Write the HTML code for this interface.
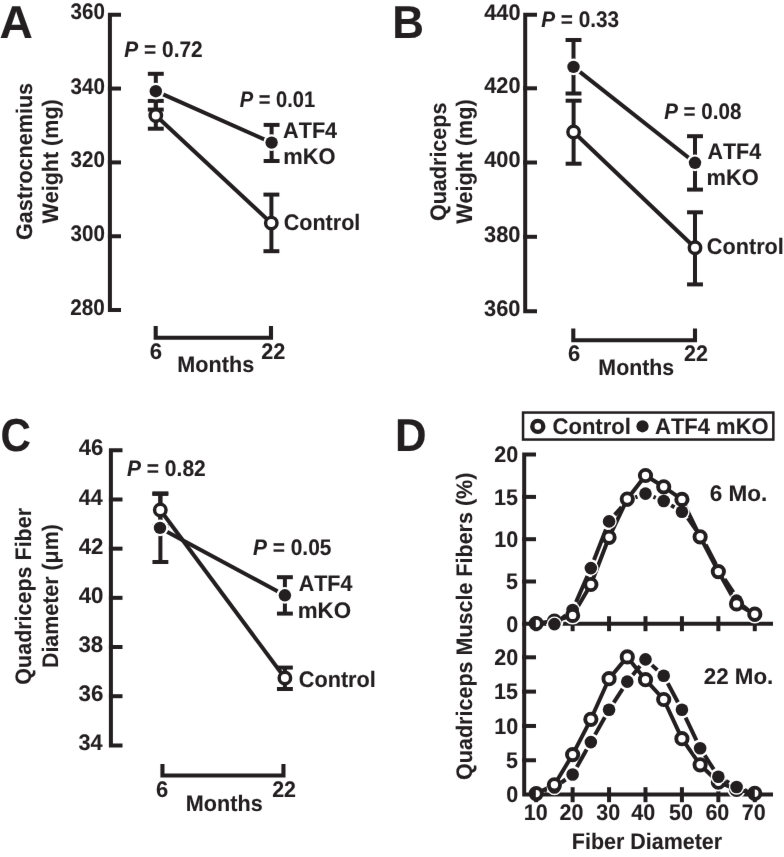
<!DOCTYPE html>
<html><head><meta charset="utf-8"><style>
html,body{margin:0;padding:0;background:#fff;}
svg{display:block;will-change:transform;}
text{font-family:"Liberation Sans",sans-serif;font-weight:bold;font-kerning:none;text-rendering:geometricPrecision;fill:#231f20;stroke:#231f20;stroke-width:0.1px;stroke-linejoin:round;}
</style></head><body>
<svg width="784" height="857" viewBox="0 0 784 857">
<defs><filter id="bl" x="0" y="0" width="1" height="1" color-interpolation-filters="sRGB"><feConvolveMatrix order="3" kernelMatrix="0.00163 0.03713 0.00163 0.03713 0.84497 0.03713 0.00163 0.03713 0.00163" edgeMode="duplicate"/></filter></defs>
<rect width="784" height="857" fill="#fff"/>
<g filter="url(#bl)"><rect width="784" height="857" fill="#fff"/>
<g stroke="#231f20" fill="none" stroke-linecap="butt">
<text transform="translate(-0.55,37.75) scale(1.0384,1.0350)" font-size="44.5">A</text>
<path d="M121.00,14.70 H109.90 V310.10 H121.00" stroke-width="4.0" fill="none" stroke-linejoin="miter" stroke-linecap="butt"/>
<line x1="107.90" y1="88.55" x2="121.00" y2="88.55" stroke-width="4.0" />
<line x1="107.90" y1="162.40" x2="121.00" y2="162.40" stroke-width="4.0" />
<line x1="107.90" y1="236.25" x2="121.00" y2="236.25" stroke-width="4.0" />
<text transform="translate(70.53,18.70) scale(0.9566,1.0450)" font-size="21.5">360</text>
<text transform="translate(70.53,93.55) scale(0.9566,1.0450)" font-size="21.5">340</text>
<text transform="translate(70.53,167.40) scale(0.9566,1.0450)" font-size="21.5">320</text>
<text transform="translate(70.53,241.25) scale(0.9566,1.0450)" font-size="21.5">300</text>
<text transform="translate(70.28,315.10) scale(0.9637,1.0450)" font-size="21.5">280</text>
<text transform="translate(31.50,239.98) rotate(-90) scale(1.0035,1.0450)" font-size="21.5">Gastrocnemius</text>
<text transform="translate(58.10,223.52) rotate(-90) scale(1.0000,1.0450)" font-size="21.5">Weight (mg)</text>
<path d="M155.70,325.90 V337.80 H271.00 V325.90" stroke-width="4.1" fill="none" stroke-linejoin="miter"/>
<text transform="translate(149.79,358.80) scale(1.0295,1.0450)" font-size="21.5">6</text>
<text transform="translate(261.25,358.80) scale(1.0086,1.0450)" font-size="21.5">22</text>
<text transform="translate(177.35,372.00) scale(1.0053,1.0450)" font-size="21.5">Months</text>
<line x1="155.80" y1="100.90" x2="155.80" y2="128.70" stroke-width="4.0" />
<line x1="147.85" y1="100.90" x2="163.75" y2="100.90" stroke-width="4.0" />
<line x1="147.85" y1="128.70" x2="163.75" y2="128.70" stroke-width="4.0" />
<line x1="271.40" y1="194.60" x2="271.40" y2="251.20" stroke-width="4.0" />
<line x1="263.45" y1="194.60" x2="279.35" y2="194.60" stroke-width="4.0" />
<line x1="263.45" y1="251.20" x2="279.35" y2="251.20" stroke-width="4.0" />
<line x1="155.80" y1="73.80" x2="155.80" y2="109.60" stroke-width="4.0" />
<line x1="147.85" y1="73.80" x2="163.75" y2="73.80" stroke-width="4.0" />
<line x1="147.85" y1="109.60" x2="163.75" y2="109.60" stroke-width="4.0" />
<line x1="271.60" y1="124.90" x2="271.60" y2="161.00" stroke-width="4.0" />
<line x1="263.65" y1="124.90" x2="279.55" y2="124.90" stroke-width="4.0" />
<line x1="263.65" y1="161.00" x2="279.55" y2="161.00" stroke-width="4.0" />
<line x1="155.80" y1="115.50" x2="271.30" y2="223.10" stroke-width="4.0" />
<line x1="155.80" y1="91.20" x2="271.60" y2="142.60" stroke-width="4.0" />
<circle cx="155.80" cy="115.50" r="5.72" fill="#fff" stroke="#231f20" stroke-width="3.45"/>
<circle cx="271.30" cy="223.10" r="5.72" fill="#fff" stroke="#231f20" stroke-width="3.45"/>
<circle cx="155.80" cy="91.20" r="8.40" fill="#fff" stroke="none"/>
<circle cx="155.80" cy="91.20" r="6.20" fill="#231f20" stroke="none"/>
<circle cx="271.60" cy="142.60" r="8.40" fill="#fff" stroke="none"/>
<circle cx="271.60" cy="142.60" r="6.20" fill="#231f20" stroke="none"/>
<text transform="translate(124.33,57.30) scale(0.9704,1.0450)" font-size="21.5"><tspan font-style="italic">P</tspan> = 0.72</text>
<text transform="translate(239.65,107.20) scale(0.9346,1.0450)" font-size="21.5"><tspan font-style="italic">P</tspan> = 0.01</text>
<text transform="translate(283.06,137.80) scale(1.0057,1.0450)" font-size="21.5">ATF4</text>
<text transform="translate(283.16,164.00) scale(1.0194,1.0450)" font-size="21.5">mKO</text>
<text transform="translate(283.72,229.80) scale(1.0024,1.0450)" font-size="21.5">Control</text>
<text transform="translate(392.26,37.75) scale(0.9875,1.0350)" font-size="44.5">B</text>
<path d="M537.00,14.80 H525.20 V311.20 H537.00" stroke-width="4.0" fill="none" stroke-linejoin="miter" stroke-linecap="butt"/>
<line x1="523.20" y1="88.30" x2="537.00" y2="88.30" stroke-width="4.0" />
<line x1="523.20" y1="162.50" x2="537.00" y2="162.50" stroke-width="4.0" />
<line x1="523.20" y1="236.80" x2="537.00" y2="236.80" stroke-width="4.0" />
<text transform="translate(484.27,19.60) scale(1.0097,1.0450)" font-size="21.5">440</text>
<text transform="translate(484.27,93.10) scale(1.0097,1.0450)" font-size="21.5">420</text>
<text transform="translate(484.27,167.30) scale(1.0097,1.0450)" font-size="21.5">400</text>
<text transform="translate(484.10,241.60) scale(1.0146,1.0450)" font-size="21.5">380</text>
<text transform="translate(484.10,316.00) scale(1.0146,1.0450)" font-size="21.5">360</text>
<text transform="translate(445.60,221.08) rotate(-90) scale(1.0023,1.0450)" font-size="21.5">Quadriceps</text>
<text transform="translate(471.80,223.77) rotate(-90) scale(1.0012,1.0450)" font-size="21.5">Weight (mg)</text>
<path d="M573.30,328.60 V340.30 H695.00 V328.60" stroke-width="4.1" fill="none" stroke-linejoin="miter"/>
<text transform="translate(568.00,360.60) scale(1.0199,1.0450)" font-size="21.5">6</text>
<text transform="translate(683.95,360.60) scale(0.9996,1.0450)" font-size="21.5">22</text>
<text transform="translate(598.37,375.00) scale(0.9918,1.0450)" font-size="21.5">Months</text>
<line x1="573.60" y1="100.70" x2="573.60" y2="163.70" stroke-width="4.0" />
<line x1="565.65" y1="100.70" x2="581.55" y2="100.70" stroke-width="4.0" />
<line x1="565.65" y1="163.70" x2="581.55" y2="163.70" stroke-width="4.0" />
<line x1="695.00" y1="212.30" x2="695.00" y2="284.40" stroke-width="4.0" />
<line x1="687.05" y1="212.30" x2="702.95" y2="212.30" stroke-width="4.0" />
<line x1="687.05" y1="284.40" x2="702.95" y2="284.40" stroke-width="4.0" />
<line x1="573.50" y1="40.00" x2="573.50" y2="93.50" stroke-width="4.0" />
<line x1="565.55" y1="40.00" x2="581.45" y2="40.00" stroke-width="4.0" />
<line x1="565.55" y1="93.50" x2="581.45" y2="93.50" stroke-width="4.0" />
<line x1="695.00" y1="136.20" x2="695.00" y2="189.60" stroke-width="4.0" />
<line x1="687.05" y1="136.20" x2="702.95" y2="136.20" stroke-width="4.0" />
<line x1="687.05" y1="189.60" x2="702.95" y2="189.60" stroke-width="4.0" />
<line x1="573.60" y1="132.00" x2="695.00" y2="247.80" stroke-width="4.0" />
<line x1="573.50" y1="66.90" x2="695.00" y2="162.80" stroke-width="4.0" />
<circle cx="573.60" cy="132.00" r="5.72" fill="#fff" stroke="#231f20" stroke-width="3.45"/>
<circle cx="695.00" cy="247.80" r="5.72" fill="#fff" stroke="#231f20" stroke-width="3.45"/>
<circle cx="573.50" cy="66.90" r="8.40" fill="#fff" stroke="none"/>
<circle cx="573.50" cy="66.90" r="6.20" fill="#231f20" stroke="none"/>
<circle cx="695.00" cy="162.80" r="8.40" fill="#fff" stroke="none"/>
<circle cx="695.00" cy="162.80" r="6.20" fill="#231f20" stroke="none"/>
<text transform="translate(541.24,27.20) scale(0.9656,1.0450)" font-size="21.5"><tspan font-style="italic">P</tspan> = 0.33</text>
<text transform="translate(664.14,118.70) scale(0.9567,1.0450)" font-size="21.5"><tspan font-style="italic">P</tspan> = 0.08</text>
<text transform="translate(707.47,158.50) scale(0.9981,1.0450)" font-size="21.5">ATF4</text>
<text transform="translate(706.56,184.50) scale(1.0174,1.0450)" font-size="21.5">mKO</text>
<text transform="translate(706.81,254.30) scale(1.0078,1.0450)" font-size="21.5">Control</text>
<text transform="translate(0.47,451.00) scale(0.9452,1.0350)" font-size="44.5">C</text>
<path d="M122.50,450.30 H110.90 V745.38 H122.50" stroke-width="4.0" fill="none" stroke-linejoin="miter" stroke-linecap="butt"/>
<line x1="108.90" y1="499.48" x2="122.50" y2="499.48" stroke-width="4.0" />
<line x1="108.90" y1="548.66" x2="122.50" y2="548.66" stroke-width="4.0" />
<line x1="108.90" y1="597.84" x2="122.50" y2="597.84" stroke-width="4.0" />
<line x1="108.90" y1="647.02" x2="122.50" y2="647.02" stroke-width="4.0" />
<line x1="108.90" y1="696.20" x2="122.50" y2="696.20" stroke-width="4.0" />
<text transform="translate(78.66,455.40) scale(1.0301,1.0450)" font-size="21.5">46</text>
<text transform="translate(78.67,504.58) scale(1.0011,1.0450)" font-size="21.5">44</text>
<text transform="translate(78.66,553.76) scale(1.0340,1.0450)" font-size="21.5">42</text>
<text transform="translate(78.66,602.94) scale(1.0349,1.0450)" font-size="21.5">40</text>
<text transform="translate(78.49,652.12) scale(1.0325,1.0450)" font-size="21.5">38</text>
<text transform="translate(78.49,701.30) scale(1.0378,1.0450)" font-size="21.5">36</text>
<text transform="translate(78.50,750.48) scale(1.0083,1.0450)" font-size="21.5">34</text>
<text transform="translate(31.00,684.63) rotate(-90) scale(0.9990,1.0450)" font-size="21.5">Quadriceps Fiber</text>
<text transform="translate(57.70,668.03) rotate(-90) scale(0.9946,1.0450)" font-size="21.5">Diameter (μm)</text>
<path d="M162.45,763.90 V775.55 H283.45 V763.90" stroke-width="4.1" fill="none" stroke-linejoin="miter"/>
<text transform="translate(156.10,797.00) scale(1.0199,1.0450)" font-size="21.5">6</text>
<text transform="translate(272.16,797.00) scale(0.9951,1.0450)" font-size="21.5">22</text>
<text transform="translate(185.85,811.00) scale(1.0053,1.0450)" font-size="21.5">Months</text>
<line x1="160.30" y1="493.90" x2="160.30" y2="526.10" stroke-width="4.0" />
<line x1="152.35" y1="493.90" x2="168.25" y2="493.90" stroke-width="4.0" />
<line x1="152.35" y1="526.10" x2="168.25" y2="526.10" stroke-width="4.0" />
<line x1="284.90" y1="667.60" x2="284.90" y2="689.00" stroke-width="4.0" />
<line x1="276.95" y1="667.60" x2="292.85" y2="667.60" stroke-width="4.0" />
<line x1="276.95" y1="689.00" x2="292.85" y2="689.00" stroke-width="4.0" />
<line x1="160.40" y1="493.40" x2="160.40" y2="562.00" stroke-width="4.0" />
<line x1="152.45" y1="493.40" x2="168.35" y2="493.40" stroke-width="4.0" />
<line x1="152.45" y1="562.00" x2="168.35" y2="562.00" stroke-width="4.0" />
<line x1="284.90" y1="577.20" x2="284.90" y2="613.60" stroke-width="4.0" />
<line x1="276.95" y1="577.20" x2="292.85" y2="577.20" stroke-width="4.0" />
<line x1="276.95" y1="613.60" x2="292.85" y2="613.60" stroke-width="4.0" />
<line x1="160.30" y1="510.00" x2="284.90" y2="678.00" stroke-width="4.0" />
<line x1="160.00" y1="527.90" x2="284.90" y2="595.30" stroke-width="4.0" />
<circle cx="160.30" cy="510.00" r="5.72" fill="#fff" stroke="#231f20" stroke-width="3.45"/>
<circle cx="284.90" cy="678.00" r="5.72" fill="#fff" stroke="#231f20" stroke-width="3.45"/>
<circle cx="160.00" cy="527.90" r="8.40" fill="#fff" stroke="none"/>
<circle cx="160.00" cy="527.90" r="6.20" fill="#231f20" stroke="none"/>
<circle cx="284.90" cy="595.30" r="8.40" fill="#fff" stroke="none"/>
<circle cx="284.90" cy="595.30" r="6.20" fill="#231f20" stroke="none"/>
<text transform="translate(126.93,476.10) scale(0.9767,1.0450)" font-size="21.5"><tspan font-style="italic">P</tspan> = 0.82</text>
<text transform="translate(252.93,555.30) scale(0.9723,1.0450)" font-size="21.5"><tspan font-style="italic">P</tspan> = 0.05</text>
<text transform="translate(298.67,590.70) scale(0.9981,1.0450)" font-size="21.5">ATF4</text>
<text transform="translate(297.73,617.60) scale(1.0398,1.0450)" font-size="21.5">mKO</text>
<text transform="translate(298.71,686.80) scale(1.0092,1.0450)" font-size="21.5">Control</text>
<text transform="translate(395.08,450.90) scale(0.9820,1.0350)" font-size="44.5">D</text>
<rect x="523.05" y="412.55" width="250.30" height="27.00" fill="none" stroke-width="2.5"/>
<circle cx="537.80" cy="426.40" r="5.50" fill="#fff" stroke="#231f20" stroke-width="4.40"/>
<text transform="translate(552.50,433.70) scale(1.0254,1.0450)" font-size="21.5">Control</text>
<circle cx="642.50" cy="426.30" r="6.10" fill="#231f20" stroke="none"/>
<text transform="translate(655.05,434.20) scale(1.0223,1.0450)" font-size="21.5">ATF4 mKO</text>
<path d="M536.0,454.60 H524.2 V794.60 H773.0" stroke-width="4.0" fill="none" stroke-linejoin="miter"/>
<line x1="522.20" y1="623.80" x2="773.00" y2="623.80" stroke-width="4.0" />
<line x1="522.20" y1="496.90" x2="536.00" y2="496.90" stroke-width="4.0" />
<line x1="522.20" y1="539.20" x2="536.00" y2="539.20" stroke-width="4.0" />
<line x1="522.20" y1="581.50" x2="536.00" y2="581.50" stroke-width="4.0" />
<line x1="522.20" y1="657.30" x2="536.00" y2="657.30" stroke-width="4.0" />
<line x1="522.20" y1="691.62" x2="536.00" y2="691.62" stroke-width="4.0" />
<line x1="522.20" y1="725.95" x2="536.00" y2="725.95" stroke-width="4.0" />
<line x1="522.20" y1="760.27" x2="536.00" y2="760.27" stroke-width="4.0" />
<line x1="536.20" y1="616.20" x2="536.20" y2="631.20" stroke-width="4.0" />
<line x1="536.20" y1="787.20" x2="536.20" y2="802.20" stroke-width="4.0" />
<line x1="572.63" y1="616.20" x2="572.63" y2="631.20" stroke-width="4.0" />
<line x1="572.63" y1="787.20" x2="572.63" y2="802.20" stroke-width="4.0" />
<line x1="609.06" y1="616.20" x2="609.06" y2="631.20" stroke-width="4.0" />
<line x1="609.06" y1="787.20" x2="609.06" y2="802.20" stroke-width="4.0" />
<line x1="645.49" y1="616.20" x2="645.49" y2="631.20" stroke-width="4.0" />
<line x1="645.49" y1="787.20" x2="645.49" y2="802.20" stroke-width="4.0" />
<line x1="681.92" y1="616.20" x2="681.92" y2="631.20" stroke-width="4.0" />
<line x1="681.92" y1="787.20" x2="681.92" y2="802.20" stroke-width="4.0" />
<line x1="718.35" y1="616.20" x2="718.35" y2="631.20" stroke-width="4.0" />
<line x1="718.35" y1="787.20" x2="718.35" y2="802.20" stroke-width="4.0" />
<line x1="754.78" y1="616.20" x2="754.78" y2="631.20" stroke-width="4.0" />
<line x1="754.78" y1="787.20" x2="754.78" y2="802.20" stroke-width="4.0" />
<text transform="translate(494.37,462.30) scale(1.0000,1.0450)" font-size="21.5">20</text>
<text transform="translate(494.37,665.00) scale(1.0000,1.0450)" font-size="21.5">20</text>
<text transform="translate(494.08,504.60) scale(1.0000,1.0450)" font-size="21.5">15</text>
<text transform="translate(494.08,699.33) scale(1.0000,1.0450)" font-size="21.5">15</text>
<text transform="translate(494.37,546.90) scale(1.0000,1.0450)" font-size="21.5">10</text>
<text transform="translate(494.37,733.65) scale(1.0000,1.0450)" font-size="21.5">10</text>
<text transform="translate(506.04,589.20) scale(1.0000,1.0450)" font-size="21.5">5</text>
<text transform="translate(506.04,767.98) scale(1.0000,1.0450)" font-size="21.5">5</text>
<text transform="translate(506.32,631.50) scale(1.0000,1.0450)" font-size="21.5">0</text>
<text transform="translate(506.32,802.30) scale(1.0000,1.0450)" font-size="21.5">0</text>
<text transform="translate(523.71,820.30) scale(1.0000,1.0450)" font-size="21.5">10</text>
<text transform="translate(559.61,820.30) scale(1.0000,1.0450)" font-size="21.5">20</text>
<text transform="translate(596.34,820.30) scale(1.0000,1.0450)" font-size="21.5">30</text>
<text transform="translate(631.32,820.30) scale(1.0000,1.0450)" font-size="21.5">40</text>
<text transform="translate(668.95,820.30) scale(1.0000,1.0450)" font-size="21.5">50</text>
<text transform="translate(705.39,820.30) scale(1.0000,1.0450)" font-size="21.5">60</text>
<text transform="translate(741.82,820.30) scale(1.0000,1.0450)" font-size="21.5">70</text>
<text transform="translate(571.86,849.00) scale(0.9981,1.0450)" font-size="21.5">Fiber Diameter</text>
<text transform="translate(471.80,779.88) rotate(-90) scale(1.0006,1.0450)" font-size="21.5">Quadriceps Muscle Fibers (%)</text>
<text transform="translate(709.77,500.90) scale(1.0479,1.0450)" font-size="21.5">6 Mo.</text>
<text transform="translate(703.72,684.20) scale(1.0405,1.0450)" font-size="21.5">22 Mo.</text>
<circle cx="554.42" cy="621.00" r="9.20" fill="#fff" stroke="none"/>
<circle cx="572.63" cy="615.40" r="9.20" fill="#fff" stroke="none"/>
<circle cx="590.85" cy="584.50" r="9.20" fill="#fff" stroke="none"/>
<circle cx="609.06" cy="537.30" r="9.20" fill="#fff" stroke="none"/>
<circle cx="627.28" cy="499.00" r="9.20" fill="#fff" stroke="none"/>
<circle cx="645.49" cy="475.50" r="9.20" fill="#fff" stroke="none"/>
<circle cx="663.71" cy="486.80" r="9.20" fill="#fff" stroke="none"/>
<circle cx="681.92" cy="499.40" r="9.20" fill="#fff" stroke="none"/>
<circle cx="700.13" cy="536.80" r="9.20" fill="#fff" stroke="none"/>
<circle cx="718.35" cy="571.60" r="9.20" fill="#fff" stroke="none"/>
<circle cx="736.57" cy="603.90" r="9.20" fill="#fff" stroke="none"/>
<circle cx="754.78" cy="614.20" r="9.20" fill="#fff" stroke="none"/>
<line x1="544.80" y1="623.78" x2="545.82" y2="623.82" stroke-width="4.0" stroke-linecap="butt"/>
<line x1="561.22" y1="618.84" x2="565.83" y2="615.26" stroke-width="4.0" stroke-linecap="butt"/>
<line x1="576.06" y1="602.11" x2="587.42" y2="575.99" stroke-width="4.0" stroke-linecap="butt"/>
<line x1="593.97" y1="560.09" x2="605.93" y2="529.41" stroke-width="4.0" stroke-linecap="butt"/>
<line x1="614.71" y1="514.92" x2="621.62" y2="506.98" stroke-width="4.0" stroke-linecap="butt"/>
<line x1="635.32" y1="497.45" x2="637.45" y2="496.65" stroke-width="4.0" stroke-linecap="butt"/>
<line x1="653.46" y1="496.84" x2="655.74" y2="497.76" stroke-width="4.0" stroke-linecap="butt"/>
<line x1="671.12" y1="505.36" x2="674.50" y2="507.34" stroke-width="4.0" stroke-linecap="butt"/>
<line x1="687.83" y1="518.07" x2="696.20" y2="530.06" stroke-width="4.0" stroke-linecap="butt"/>
<line x1="705.70" y1="544.60" x2="715.98" y2="564.34" stroke-width="4.0" stroke-linecap="butt"/>
<line x1="724.57" y1="579.01" x2="733.36" y2="592.42" stroke-width="4.0" stroke-linecap="butt"/>
<line x1="743.22" y1="606.05" x2="748.12" y2="610.05" stroke-width="4.0" stroke-linecap="butt"/>
<path d="M536.20,623.50 L554.42,621.00 L572.63,615.40 L590.85,584.50 L609.06,537.30 L627.28,499.00 L645.49,475.50 L663.71,486.80 L681.92,499.40 L700.13,536.80 L718.35,571.60 L736.57,603.90 L754.78,614.20" stroke-width="4.0" fill="none" stroke-linejoin="round"/>
<circle cx="572.63" cy="610.00" r="7.70" fill="#fff" stroke="none"/>
<circle cx="572.63" cy="610.00" r="6.30" fill="#231f20" stroke="none"/>
<circle cx="590.85" cy="568.10" r="7.70" fill="#fff" stroke="none"/>
<circle cx="590.85" cy="568.10" r="6.30" fill="#231f20" stroke="none"/>
<circle cx="609.06" cy="521.40" r="7.70" fill="#fff" stroke="none"/>
<circle cx="609.06" cy="521.40" r="6.30" fill="#231f20" stroke="none"/>
<circle cx="627.28" cy="500.50" r="6.30" fill="#231f20" stroke="none"/>
<circle cx="645.49" cy="493.60" r="7.70" fill="#fff" stroke="none"/>
<circle cx="645.49" cy="493.60" r="6.30" fill="#231f20" stroke="none"/>
<circle cx="663.71" cy="501.00" r="7.70" fill="#fff" stroke="none"/>
<circle cx="663.71" cy="501.00" r="6.30" fill="#231f20" stroke="none"/>
<circle cx="681.92" cy="511.70" r="7.70" fill="#fff" stroke="none"/>
<circle cx="681.92" cy="511.70" r="6.30" fill="#231f20" stroke="none"/>
<circle cx="700.13" cy="537.80" r="6.30" fill="#231f20" stroke="none"/>
<circle cx="718.35" cy="572.80" r="6.30" fill="#231f20" stroke="none"/>
<circle cx="736.57" cy="600.60" r="7.70" fill="#fff" stroke="none"/>
<circle cx="736.57" cy="600.60" r="6.30" fill="#231f20" stroke="none"/>
<circle cx="754.78" cy="615.50" r="6.30" fill="#231f20" stroke="none"/>
<circle cx="536.20" cy="623.50" r="5.65" fill="#fff" stroke="#231f20" stroke-width="3.90"/>
<rect x="532.00" y="619.30" width="3.80" height="8.4" fill="#231f20" stroke="none"/>
<circle cx="554.42" cy="621.00" r="5.65" fill="#fff" stroke="#231f20" stroke-width="3.90"/>
<circle cx="572.63" cy="615.40" r="5.65" fill="#fff" stroke="#231f20" stroke-width="3.90"/>
<circle cx="590.85" cy="584.50" r="5.65" fill="#fff" stroke="#231f20" stroke-width="3.90"/>
<circle cx="609.06" cy="537.30" r="5.65" fill="#fff" stroke="#231f20" stroke-width="3.90"/>
<circle cx="627.28" cy="499.00" r="5.65" fill="#fff" stroke="#231f20" stroke-width="3.90"/>
<circle cx="645.49" cy="475.50" r="5.65" fill="#fff" stroke="#231f20" stroke-width="3.90"/>
<circle cx="663.71" cy="486.80" r="5.65" fill="#fff" stroke="#231f20" stroke-width="3.90"/>
<circle cx="681.92" cy="499.40" r="5.65" fill="#fff" stroke="#231f20" stroke-width="3.90"/>
<circle cx="700.13" cy="536.80" r="5.65" fill="#fff" stroke="#231f20" stroke-width="3.90"/>
<circle cx="718.35" cy="571.60" r="5.65" fill="#fff" stroke="#231f20" stroke-width="3.90"/>
<circle cx="736.57" cy="603.90" r="5.65" fill="#fff" stroke="#231f20" stroke-width="3.90"/>
<circle cx="754.78" cy="614.20" r="5.65" fill="#fff" stroke="#231f20" stroke-width="3.90"/>
<circle cx="554.42" cy="624.10" r="7.70" fill="#fff" stroke="none"/>
<circle cx="554.42" cy="624.10" r="6.30" fill="#231f20" stroke="none"/>
<circle cx="554.42" cy="784.80" r="9.20" fill="#fff" stroke="none"/>
<circle cx="572.63" cy="754.60" r="9.20" fill="#fff" stroke="none"/>
<circle cx="590.85" cy="719.30" r="9.20" fill="#fff" stroke="none"/>
<circle cx="609.06" cy="678.70" r="9.20" fill="#fff" stroke="none"/>
<circle cx="627.28" cy="656.90" r="9.20" fill="#fff" stroke="none"/>
<circle cx="645.49" cy="679.70" r="9.20" fill="#fff" stroke="none"/>
<circle cx="663.71" cy="699.50" r="9.20" fill="#fff" stroke="none"/>
<circle cx="681.92" cy="738.70" r="9.20" fill="#fff" stroke="none"/>
<circle cx="700.13" cy="764.80" r="9.20" fill="#fff" stroke="none"/>
<circle cx="718.35" cy="782.20" r="9.20" fill="#fff" stroke="none"/>
<circle cx="736.57" cy="789.50" r="9.20" fill="#fff" stroke="none"/>
<line x1="544.35" y1="790.87" x2="546.26" y2="790.23" stroke-width="4.0" stroke-linecap="butt"/>
<line x1="561.42" y1="782.50" x2="565.63" y2="779.50" stroke-width="4.0" stroke-linecap="butt"/>
<line x1="576.84" y1="767.00" x2="586.63" y2="749.60" stroke-width="4.0" stroke-linecap="butt"/>
<line x1="595.07" y1="734.61" x2="604.84" y2="717.29" stroke-width="4.0" stroke-linecap="butt"/>
<line x1="613.73" y1="702.58" x2="622.61" y2="688.82" stroke-width="4.0" stroke-linecap="butt"/>
<line x1="632.73" y1="674.95" x2="640.03" y2="666.05" stroke-width="4.0" stroke-linecap="butt"/>
<line x1="651.90" y1="665.13" x2="657.30" y2="669.97" stroke-width="4.0" stroke-linecap="butt"/>
<line x1="667.76" y1="683.29" x2="677.87" y2="702.21" stroke-width="4.0" stroke-linecap="butt"/>
<line x1="685.61" y1="717.57" x2="696.45" y2="740.43" stroke-width="4.0" stroke-linecap="butt"/>
<line x1="704.77" y1="755.45" x2="713.72" y2="769.45" stroke-width="4.0" stroke-linecap="butt"/>
<line x1="725.84" y1="780.93" x2="729.08" y2="782.77" stroke-width="4.0" stroke-linecap="butt"/>
<line x1="744.59" y1="790.09" x2="746.75" y2="790.91" stroke-width="4.0" stroke-linecap="butt"/>
<path d="M536.20,793.60 L554.42,784.80 L572.63,754.60 L590.85,719.30 L609.06,678.70 L627.28,656.90 L645.49,679.70 L663.71,699.50 L681.92,738.70 L700.13,764.80 L718.35,782.20 L736.57,789.50 L754.78,793.30" stroke-width="4.0" fill="none" stroke-linejoin="round"/>
<circle cx="554.42" cy="787.50" r="7.70" fill="#fff" stroke="none"/>
<circle cx="554.42" cy="787.50" r="6.30" fill="#231f20" stroke="none"/>
<circle cx="572.63" cy="774.50" r="7.70" fill="#fff" stroke="none"/>
<circle cx="572.63" cy="774.50" r="6.30" fill="#231f20" stroke="none"/>
<circle cx="590.85" cy="742.10" r="7.70" fill="#fff" stroke="none"/>
<circle cx="590.85" cy="742.10" r="6.30" fill="#231f20" stroke="none"/>
<circle cx="609.06" cy="709.80" r="7.70" fill="#fff" stroke="none"/>
<circle cx="609.06" cy="709.80" r="6.30" fill="#231f20" stroke="none"/>
<circle cx="627.28" cy="681.60" r="7.70" fill="#fff" stroke="none"/>
<circle cx="627.28" cy="681.60" r="6.30" fill="#231f20" stroke="none"/>
<circle cx="645.49" cy="659.40" r="7.70" fill="#fff" stroke="none"/>
<circle cx="645.49" cy="659.40" r="6.30" fill="#231f20" stroke="none"/>
<circle cx="663.71" cy="675.70" r="7.70" fill="#fff" stroke="none"/>
<circle cx="663.71" cy="675.70" r="6.30" fill="#231f20" stroke="none"/>
<circle cx="681.92" cy="709.80" r="7.70" fill="#fff" stroke="none"/>
<circle cx="681.92" cy="709.80" r="6.30" fill="#231f20" stroke="none"/>
<circle cx="700.13" cy="748.20" r="7.70" fill="#fff" stroke="none"/>
<circle cx="700.13" cy="748.20" r="6.30" fill="#231f20" stroke="none"/>
<circle cx="536.20" cy="793.60" r="5.65" fill="#fff" stroke="#231f20" stroke-width="3.90"/>
<rect x="532.00" y="789.40" width="3.80" height="8.4" fill="#231f20" stroke="none"/>
<circle cx="554.42" cy="784.80" r="5.65" fill="#fff" stroke="#231f20" stroke-width="3.90"/>
<circle cx="572.63" cy="754.60" r="5.65" fill="#fff" stroke="#231f20" stroke-width="3.90"/>
<circle cx="590.85" cy="719.30" r="5.65" fill="#fff" stroke="#231f20" stroke-width="3.90"/>
<circle cx="609.06" cy="678.70" r="5.65" fill="#fff" stroke="#231f20" stroke-width="3.90"/>
<circle cx="627.28" cy="656.90" r="5.65" fill="#fff" stroke="#231f20" stroke-width="3.90"/>
<circle cx="645.49" cy="679.70" r="5.65" fill="#fff" stroke="#231f20" stroke-width="3.90"/>
<circle cx="663.71" cy="699.50" r="5.65" fill="#fff" stroke="#231f20" stroke-width="3.90"/>
<circle cx="681.92" cy="738.70" r="5.65" fill="#fff" stroke="#231f20" stroke-width="3.90"/>
<circle cx="700.13" cy="764.80" r="5.65" fill="#fff" stroke="#231f20" stroke-width="3.90"/>
<circle cx="718.35" cy="782.20" r="5.65" fill="#fff" stroke="#231f20" stroke-width="3.90"/>
<circle cx="736.57" cy="789.50" r="5.65" fill="#fff" stroke="#231f20" stroke-width="3.90"/>
<circle cx="754.78" cy="793.30" r="5.65" fill="#fff" stroke="#231f20" stroke-width="3.90"/>
<rect x="750.58" y="789.10" width="4.20" height="8.4" fill="#231f20" stroke="none"/>
<circle cx="718.35" cy="776.70" r="7.70" fill="#fff" stroke="none"/>
<circle cx="718.35" cy="776.70" r="6.30" fill="#231f20" stroke="none"/>
<circle cx="736.57" cy="787.00" r="7.70" fill="#fff" stroke="none"/>
<circle cx="736.57" cy="787.00" r="6.30" fill="#231f20" stroke="none"/>
</g></g>
</svg>
</body></html>
